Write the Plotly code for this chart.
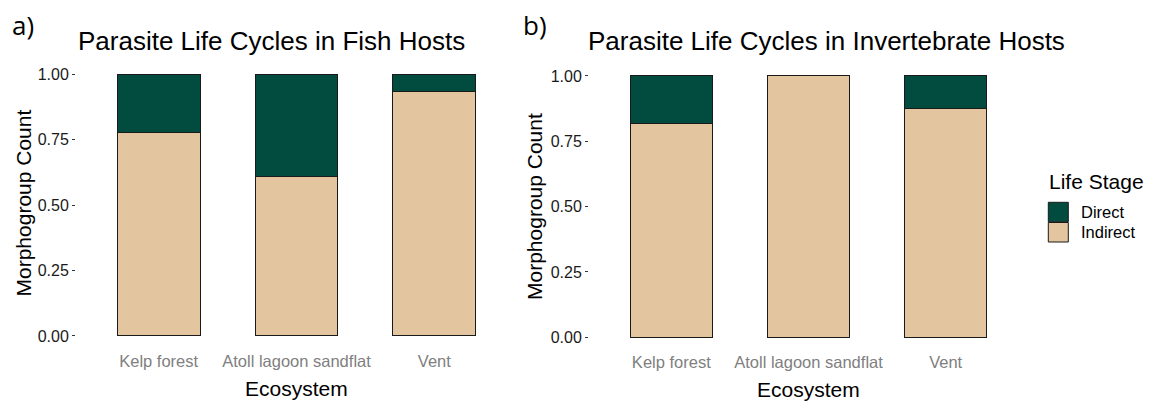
import plotly.graph_objects as go

# ---------------------------------------------------------------------------
# Data (proportion of morphogroups per life-cycle type)
# ---------------------------------------------------------------------------
ECOSYSTEMS = ["Kelp forest", "Atoll lagoon sandflat", "Vent"]

FISH_INDIRECT = [0.778, 0.611, 0.933]
FISH_DIRECT = [0.222, 0.389, 0.067]

INVERT_INDIRECT = [0.818, 1.0, 0.875]
INVERT_DIRECT = [0.182, 0.0, 0.125]

Y_TICKS = [0.0, 0.25, 0.5, 0.75, 1.0]
Y_TICK_TEXT = ["0.00", "0.25", "0.50", "0.75", "1.00"]

# ---------------------------------------------------------------------------
# Style
# ---------------------------------------------------------------------------
DIRECT_COLOR = "#024B3F"
INDIRECT_COLOR = "#E3C59F"
EDGE_COLOR = "#1a1a1a"
FONT = "Liberation Sans, Arial, sans-serif"
LABEL_FONT = "Open Sans, sans-serif"

W, H = 1149, 404


def px_x(x):
    return x / W


def px_y(y):
    return 1 - y / H


fig = go.Figure()

panels = [
    ("x", "y", FISH_INDIRECT, FISH_DIRECT),
    ("x2", "y2", INVERT_INDIRECT, INVERT_DIRECT),
]
for xa, ya, indirect, direct in panels:
    fig.add_trace(go.Bar(
        x=ECOSYSTEMS, y=indirect, name="Indirect", width=0.6,
        marker=dict(color=INDIRECT_COLOR, line=dict(color=EDGE_COLOR, width=1)),
        xaxis=xa, yaxis=ya, showlegend=False,
    ))
    fig.add_trace(go.Bar(
        x=ECOSYSTEMS, y=direct, name="Direct", width=0.6,
        marker=dict(color=DIRECT_COLOR, line=dict(color=EDGE_COLOR, width=1)),
        xaxis=xa, yaxis=ya, showlegend=False,
    ))

xaxis_style = dict(
    type="category", range=[-0.6, 2.6], showgrid=False, zeroline=False,
    showline=False, ticks="", tickfont=dict(size=16.5, color="#808080", family=FONT),
    fixedrange=True,
)
yaxis_style = dict(
    range=[-0.05, 1.05], tickvals=Y_TICKS, ticktext=Y_TICK_TEXT,
    showgrid=False, zeroline=False, showline=False,
    ticks="outside", ticklen=3, tickwidth=1, tickcolor="#333333",
    tickfont=dict(size=16, color="#1a1a1a", family=FONT), fixedrange=True,
)

fig.update_layout(
    width=W, height=H,
    margin=dict(l=0, r=0, t=0, b=0),
    barmode="stack",
    paper_bgcolor="white",
    plot_bgcolor="white",
    font=dict(family=FONT, color="black"),
    xaxis=dict(domain=[px_x(76), px_x(517)], anchor="y", **xaxis_style),
    yaxis=dict(domain=[px_y(349), px_y(61.4)], anchor="x", **yaxis_style),
    xaxis2=dict(domain=[px_x(589), px_x(1028)], anchor="y2", **xaxis_style),
    yaxis2=dict(domain=[px_y(350.4), px_y(62.9)], anchor="x2", **yaxis_style),
)

annotations = [
    # panel letters
    dict(text="a)", x=px_x(23), y=px_y(25), font=dict(size=26, family=LABEL_FONT)),
    dict(text="b)", x=px_x(535), y=px_y(25), font=dict(size=26, family=LABEL_FONT)),
    # panel titles
    dict(text="Parasite Life Cycles in Fish Hosts", x=px_x(271.5), y=px_y(41),
         font=dict(size=26)),
    dict(text="Parasite Life Cycles in Invertebrate Hosts", x=px_x(826), y=px_y(41),
         font=dict(size=26)),
    # axis titles
    dict(text="Morphogroup Count", x=px_x(23), y=px_y(203.5), textangle=-90,
         font=dict(size=21)),
    dict(text="Morphogroup Count", x=px_x(534.5), y=px_y(206.5), textangle=-90,
         font=dict(size=21)),
    dict(text="Ecosystem", x=px_x(296.5), y=px_y(388), font=dict(size=21)),
    dict(text="Ecosystem", x=px_x(808.7), y=px_y(389), font=dict(size=21)),
    # legend
    dict(text="Life Stage", x=px_x(1047), y=px_y(182), xanchor="left",
         font=dict(size=21)),
    dict(text="Direct", x=px_x(1079), y=px_y(212), xanchor="left",
         font=dict(size=16.5)),
    dict(text="Indirect", x=px_x(1079), y=px_y(232.5), xanchor="left",
         font=dict(size=16.5)),
]
for a in annotations:
    a.setdefault("xanchor", "center")
    fig.add_annotation(xref="paper", yref="paper", yanchor="middle",
                       showarrow=False, **a)

# legend swatches
for y0, color in [(202.3, DIRECT_COLOR), (222.5, INDIRECT_COLOR)]:
    fig.add_shape(type="rect", xref="paper", yref="paper",
                  x0=px_x(1048.3), x1=px_x(1068.3), y0=px_y(y0), y1=px_y(y0 + 19.5),
                  fillcolor=color, line=dict(color=EDGE_COLOR, width=1))

# drop the default page margin so the figure sits at the window's top-left
fig.write_html("out.html", config={"displayModeBar": False},
               post_script="document.body.style.margin='0';")
